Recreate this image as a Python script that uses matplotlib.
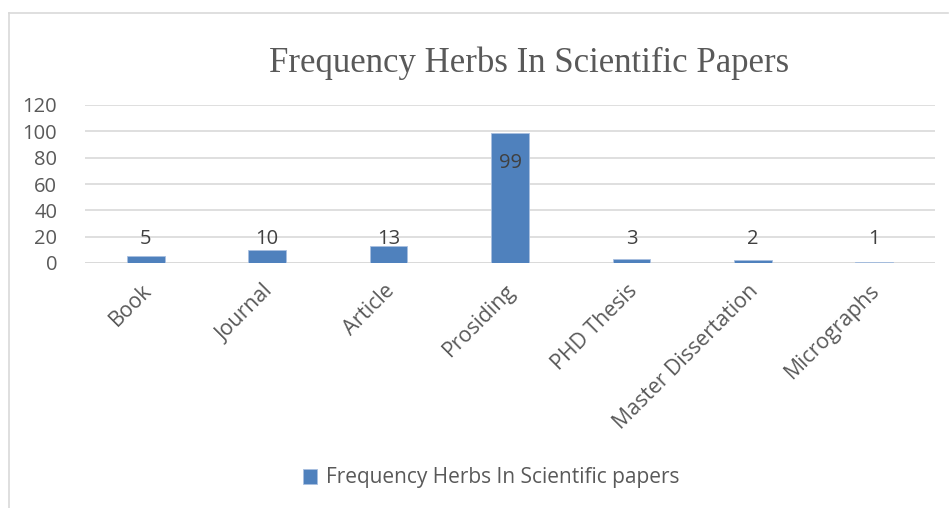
import matplotlib.pyplot as plt
from matplotlib.lines import Line2D
import matplotlib.transforms as mtransforms

categories = ['Book', 'Journal', 'Article', 'Prosiding', 'PHD Thesis',
              'Master Dissertation', 'Micrographs']
values = [5, 10, 13, 99, 3, 2, 1]
yticks = [0, 20, 40, 60, 80, 100, 120]
series_name = 'Frequency Herbs In Scientific papers'
title = 'Frequency Herbs In Scientific Papers'

bar_color = '#4f81bd'
text_color = '#595959'
grid_color = '#d9d9d9'
label_font = ['Open Sans', 'DejaVu Sans']

fig = plt.figure(figsize=(9.49, 5.08), dpi=100)
W, H = 949, 508
ax = fig.add_axes([85 / W, 1 - 263 / H, 850 / W, (263 - 105) / H])

x = range(len(categories))
bars = ax.bar(x, values, width=0.31, color=bar_color, edgecolor='#a9c0e0',
              linewidth=0.6, label=series_name, zorder=3)

ax.set_xlim(-0.5, len(categories) - 0.5)
ax.set_ylim(0, 120)
ax.set_yticks(yticks)
ax.set_yticklabels([str(t) for t in yticks], family=label_font,
                   fontsize=14.5, color=text_color)
ax.yaxis.grid(True, color=grid_color, linewidth=1.2, zorder=0)
ax.tick_params(axis='both', length=0)
ax.tick_params(axis='y', pad=20)
for s in ax.spines.values():
    s.set_visible(False)
ax.axhline(0, color=grid_color, linewidth=1.2, zorder=2)

ax.set_xticks(list(x))
ax.set_xticklabels(categories, rotation=45, ha='right', va='top',
                   rotation_mode='anchor', family=label_font,
                   fontsize=15.3, color=text_color)
offset = mtransforms.ScaledTranslation(-3.5 / 72, -9 / 72, fig.dpi_scale_trans)
for lab in ax.get_xticklabels():
    lab.set_transform(lab.get_transform() + offset)

# value labels: above the short bars, inside the tall one
for i, v in enumerate(values):
    if v > 50:
        ax.text(i, v - 23, str(v), ha='center', va='center', family=label_font,
                fontsize=14.5, color='#404040', zorder=4)
    else:
        ax.text(i, max(v + 5, 18.5), str(v), ha='center', va='center',
                family=label_font, fontsize=14.5, color='#404040', zorder=4)

fig.text(529 / W, 1 - 63 / H, title, ha='center', va='center',
         family=['Liberation Serif', 'DejaVu Serif'], fontsize=25,
         color=text_color)

fig.legend(handles=[bars], labels=[series_name], loc='center',
           bbox_to_anchor=(491 / W, 1 - 478 / H), frameon=False,
           prop={'family': label_font, 'size': 15}, labelcolor=text_color,
           handlelength=0.7, handleheight=0.7, handletextpad=0.4)

# chart frame (top and left edges visible)
fig.add_artist(Line2D([9 / W, 948 / W], [1 - 13 / H, 1 - 13 / H],
                      color='#d9d9d9', linewidth=1.2))
fig.add_artist(Line2D([9 / W, 9 / W], [1 - 13 / H, 0],
                      color='#d9d9d9', linewidth=1.2))

fig.savefig('out.png', dpi=100)
